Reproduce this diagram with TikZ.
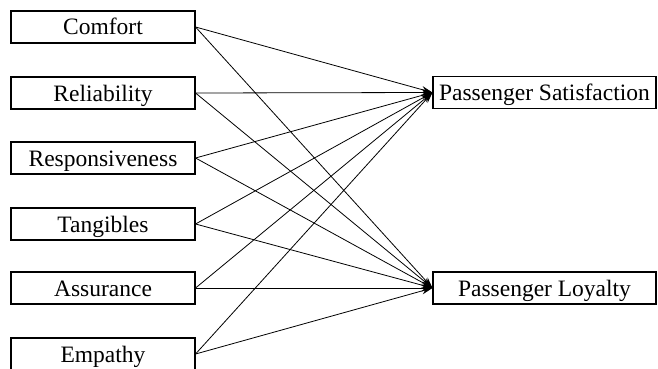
\documentclass[tikz,border=0pt]{standalone}
\usepackage{fontspec}
\setmainfont{Liberation Serif}
\usetikzlibrary{arrows.meta}
\begin{document}
\begin{tikzpicture}[x=1pt,y=-1pt,
  box/.style={draw, line width=1.1pt, rectangle, minimum height=32pt, inner sep=0pt,
    text height=18pt, text depth=2pt,
    font=\fontsize{23.5}{28}\selectfont},
  lbox/.style={box, minimum width=184pt},
  rbox/.style={box, minimum width=223pt},
  link/.style={line width=0.8pt, -{Stealth[length=11pt,width=7pt]}}]
\useasboundingbox (0,0) rectangle (658,369);
\node[lbox] (c) at (103,27) {Comfort};
\node[lbox] (r) at (103,93) {Reliability};
\node[lbox] (rs) at (103,158) {Responsiveness};
\node[lbox] (t) at (103,224) {Tangibles};
\node[lbox] (a) at (103,288) {Assurance};
\node[lbox] (e) at (103,354) {Empathy};
\node[rbox] (s) at (544.5,92.5) {Passenger Satisfaction};
\node[rbox] (l) at (544.5,288) {Passenger Loyalty};
\foreach \n in {c,r,rs,t,a,e}{
  \draw[link] (\n.east) -- (s.west);
  \draw[link] (\n.east) -- (l.west);
}
\end{tikzpicture}
\end{document}
